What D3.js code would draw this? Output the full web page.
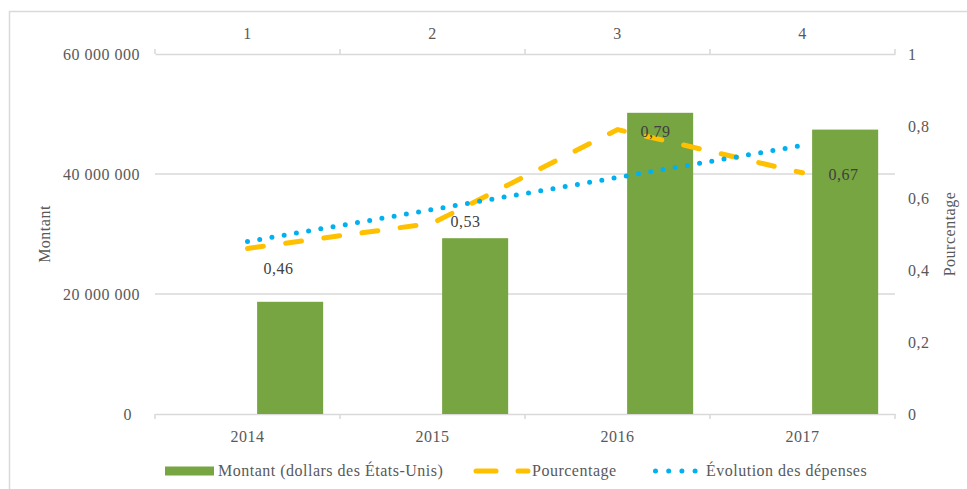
<!DOCTYPE html>
<html>
<head>
<meta charset="utf-8">
<script src="https://cdn.jsdelivr.net/npm/d3@7"></script>
<style>
  html, body { margin: 0; padding: 0; background: #fff; }
  svg, svg text { font-family: 'Liberation Serif', serif; }
</style>
</head>
<body>
<svg id="chart" width="967" height="489"></svg>
<script>
// ---- data ----
const categories = ["2014", "2015", "2016", "2017"];
const topCategories = ["1", "2", "3", "4"];
const montant = [18700000, 29300000, 50200000, 47400000];
const pourcentage = [0.46, 0.53, 0.79, 0.67];
const evolution = [0.479, 0.568, 0.657, 0.746];
const leftTicks = [0, 20000000, 40000000, 60000000];
const rightTicks = [0, 0.2, 0.4, 0.6, 0.8, 1];
const legendLabels = ["Montant (dollars des États-Unis)", "Pourcentage", "Évolution des dépenses"];
const axisTitles = ["Montant", "Pourcentage"];

// ---- layout ----
const W = 967, H = 489;
const FONT = "'Liberation Serif', serif";
const plot = { left: 155, right: 895, top: 54, bottom: 414 };
const colors = { bar: "#77A541", pct: "#FFC000", evo: "#00B0F0", grid: "#D9D9D9", text: "#595959", label: "#404040" };

const fr = d3.formatLocale({ decimal: ",", thousands: " ", grouping: [3], currency: ["", ""] });
const fmtLeft = fr.format(",d");
const fmtRight = fr.format("~g");
const fmtLabel = fr.format(".2f");

const svg = d3.select("#chart").style("font-family", FONT);

// outer frame
svg.append("rect").attr("x", 9.5).attr("y", 11.5).attr("width", W).attr("height", H)
  .attr("fill", "none").attr("stroke", colors.grid).attr("stroke-width", 1.5);

const x = d3.scaleBand().domain(categories).range([plot.left, plot.right]).padding(0);
const xTop = d3.scaleBand().domain(topCategories).range([plot.left, plot.right]).padding(0);
const yL = d3.scaleLinear().domain([0, 60000000]).range([plot.bottom, plot.top]);
const yR = d3.scaleLinear().domain([0, 1]).range([plot.bottom, plot.top]);
const bw = x.bandwidth();

// gridlines
svg.append("g").selectAll("line").data(leftTicks.filter(t => t > 0 && t < 60000000)).join("line")
  .attr("x1", plot.left).attr("x2", plot.right)
  .attr("y1", d => yL(d)).attr("y2", d => yL(d))
  .attr("stroke", colors.grid).attr("stroke-width", 1.5);

function styleText(sel) {
  sel.attr("font-size", 16).attr("fill", colors.text).attr("font-family", FONT)
    .style("font-family", FONT).style("letter-spacing", "0.5px");
}

// bottom axis
const gB = svg.append("g").attr("transform", `translate(0,${plot.bottom})`)
  .call(d3.axisBottom(x).tickSize(0).tickPadding(17));
gB.attr("font-family", FONT);
gB.select(".domain").attr("stroke", colors.grid).attr("stroke-width", 1.5);
gB.selectAll("text").call(styleText);
const boundaries = categories.map(c => x(c)).concat([plot.right]);
gB.selectAll("line.bt").data(boundaries).join("line").attr("class", "bt")
  .attr("x1", d => d).attr("x2", d => d).attr("y1", 0).attr("y2", 5)
  .attr("stroke", colors.grid).attr("stroke-width", 1.5);

// top axis
const gT = svg.append("g").attr("transform", `translate(0,${plot.top})`)
  .call(d3.axisTop(xTop).tickSize(0).tickPadding(15));
gT.attr("font-family", FONT);
gT.select(".domain").attr("stroke", colors.grid).attr("stroke-width", 1.5);
gT.selectAll("text").call(styleText);
const boundariesTop = topCategories.map(c => xTop(c)).concat([plot.right]);
gT.selectAll("line.tt").data(boundariesTop).join("line").attr("class", "tt")
  .attr("x1", d => d).attr("x2", d => d).attr("y1", 0).attr("y2", -5)
  .attr("stroke", colors.grid).attr("stroke-width", 1.5);

// left axis
const gL = svg.append("g").attr("transform", `translate(${plot.left},0)`)
  .call(d3.axisLeft(yL).tickValues(leftTicks).tickFormat(fmtLeft).tickSize(0).tickPadding(15));
gL.attr("font-family", FONT);
gL.select(".domain").remove();
gL.selectAll("text").call(styleText);
gL.selectAll("text").attr("dx", d => d === 0 ? -8 : 0);

// right axis
const gR = svg.append("g").attr("transform", `translate(${plot.right},0)`)
  .call(d3.axisRight(yR).tickValues(rightTicks).tickFormat(fmtRight).tickSize(0).tickPadding(13));
gR.attr("font-family", FONT);
gR.select(".domain").remove();
gR.selectAll("text").call(styleText);

// axis titles
svg.append("text").attr("transform", `translate(50,${(plot.top + plot.bottom) / 2}) rotate(-90)`)
  .attr("text-anchor", "middle").call(styleText).text(axisTitles[0]);
svg.append("text").attr("transform", `translate(955,${(plot.top + plot.bottom) / 2}) rotate(-90)`)
  .attr("text-anchor", "middle").call(styleText).text(axisTitles[1]);

// bars
svg.append("g").selectAll("rect").data(montant).join("rect")
  .attr("x", (d, i) => x(categories[i]) + bw * 0.552)
  .attr("width", bw * 0.357)
  .attr("y", d => yL(d))
  .attr("height", d => yL(0) - yL(d))
  .attr("fill", colors.bar);

const cx = (d, i) => x(categories[i]) + bw / 2;

// pourcentage line
const line = d3.line().x(cx).y(d => yR(d));
svg.append("path").datum(pourcentage).attr("d", line)
  .attr("fill", "none").attr("stroke", colors.pct).attr("stroke-width", 5)
  .attr("stroke-linecap", "round").attr("stroke-dasharray", "16 22.5");

// evolution (trend) line
svg.append("path").datum(evolution).attr("d", line)
  .attr("fill", "none").attr("stroke", colors.evo).attr("stroke-width", 5)
  .attr("stroke-linecap", "round").attr("stroke-dasharray", "0 12.4");

// data labels
const labelOffsets = [[31, 26], [33, 4], [38, 7], [41, 7]];
svg.append("g").selectAll("text").data(pourcentage).join("text")
  .attr("x", (d, i) => cx(d, i) + labelOffsets[i][0])
  .attr("y", (d, i) => yR(d) + labelOffsets[i][1])
  .attr("text-anchor", "middle").call(styleText).attr("fill", colors.label)
  .text(d => fmtLabel(d));

// legend
const lg = svg.append("g");
const ly = 471;
lg.append("rect").attr("x", 165).attr("y", ly - 4.5).attr("width", 49).attr("height", 9).attr("fill", colors.bar);
lg.append("text").attr("x", 218).attr("y", ly + 5).call(styleText).text(legendLabels[0]);
lg.append("line").attr("x1", 476).attr("x2", 528).attr("y1", ly).attr("y2", ly)
  .attr("stroke", colors.pct).attr("stroke-width", 5).attr("stroke-linecap", "round").attr("stroke-dasharray", "20 22");
lg.append("text").attr("x", 532).attr("y", ly + 5).call(styleText).text(legendLabels[1]);
lg.append("line").attr("x1", 655.5).attr("x2", 696).attr("y1", ly).attr("y2", ly)
  .attr("stroke", colors.evo).attr("stroke-width", 5).attr("stroke-linecap", "round").attr("stroke-dasharray", "0 13.2");
lg.append("text").attr("x", 706).attr("y", ly + 5).call(styleText).text(legendLabels[2]);
</script>
</body>
</html>
